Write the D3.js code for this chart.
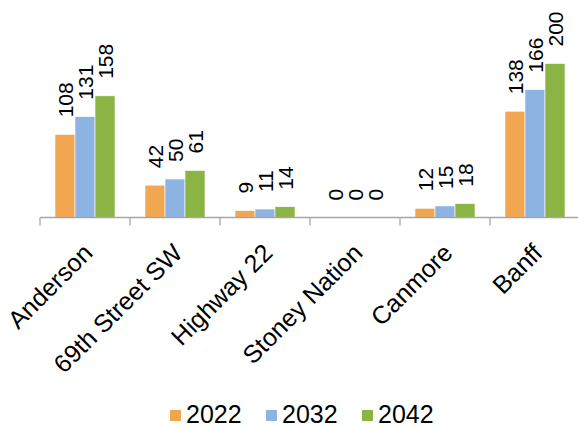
<!DOCTYPE html>
<html><head><meta charset="utf-8">
<script src="https://cdn.jsdelivr.net/npm/d3@7"></script>
<style>body{margin:0;background:#fff}svg{display:block}</style>
</head><body>
<svg id="c" width="578" height="427"></svg>
<script>
const categories = ["Anderson","69th Street SW","Highway 22","Stoney Nation","Canmore","Banff"];
const seriesNames = ["2022","2032","2042"];
const v2022 = [108,42,9,0,12,138];
const v2032 = [131,50,11,0,15,166];
const v2042 = [158,61,14,0,18,200];
const colors = ["#F2A64F","#8DB3E2","#8CB444"];

const series = [v2022, v2032, v2042];
const svg = d3.select("#c");
const font = "'Liberation Sans', Arial, sans-serif";

const x = d3.scaleBand().domain(categories).range([40, 580]).paddingInner(0).paddingOuter(0);
const xs = d3.scaleBand().domain(seriesNames).range([15, 75]);
const y = d3.scaleLinear().domain([0, 200]).range([217.5, 63.5]);

// bars
categories.forEach((c, i) => {
  const g = svg.append("g").attr("transform", `translate(${x(c)},0)`);
  seriesNames.forEach((s, j) => {
    const v = series[j][i];
    g.append("rect")
      .attr("x", xs(s)).attr("width", xs.bandwidth())
      .attr("y", y(v)).attr("height", y(0) - y(v))
      .attr("fill", colors[j])
      .attr("stroke", "#ffffff").attr("stroke-width", 0.6);
    g.append("text")
      .attr("transform", `translate(${xs(s) + xs.bandwidth()/2},${y(v) - 17}) rotate(-90)`)
      .attr("dy", "0.36em")
      .attr("font-family", font).attr("font-size", 21)
      .attr("fill", "#000")
      .text(v);
  });
});

// axis
const axisG = svg.append("g").attr("transform", `translate(0,${y(0)})`);
axisG.append("line").attr("x1", 40).attr("x2", 578).attr("y1", 0).attr("y2", 0)
  .attr("stroke", "#a6a6a6").attr("stroke-width", 1.3);
const bounds = categories.map(c => x(c)).concat([x.range()[1]]);
axisG.selectAll("line.tick").data(bounds).join("line")
  .attr("class","tick").attr("x1", d => d).attr("x2", d => d)
  .attr("y1", 0).attr("y2", 8).attr("stroke", "#a6a6a6").attr("stroke-width", 1.3);

// category labels
svg.selectAll("text.cat").data(categories).join("text")
  .attr("class","cat")
  .attr("transform", d => `translate(${x(d) + x.bandwidth()/2 + 9},${y(0) + 37}) rotate(-45)`)
  .attr("text-anchor", "end")
  .attr("font-family", font).attr("font-size", 25)
  .attr("fill", "#000")
  .text(d => d);

// legend
const legX = [170, 266, 362];
seriesNames.forEach((s, j) => {
  svg.append("rect").attr("x", legX[j]).attr("y", 410).attr("width", 11).attr("height", 11)
    .attr("fill", colors[j]);
  svg.append("text").attr("x", legX[j] + 16).attr("y", 423)
    .attr("font-family", font).attr("font-size", 25).attr("fill", "#000")
    .text(s);
});
</script>
</body></html>
